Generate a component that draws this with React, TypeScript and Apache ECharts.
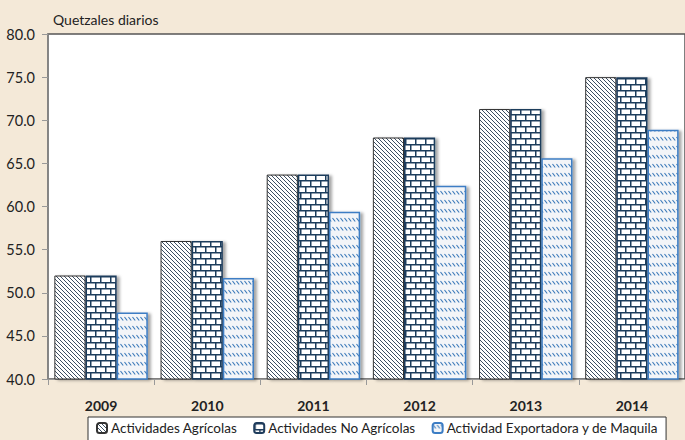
import React, { useEffect, useRef } from "react";
import * as echarts from "echarts";

const categories = ["2009", "2010", "2011", "2012", "2013", "2014"];
const seriesNames = [
  "Actividades Agrícolas",
  "Actividades No Agrícolas",
  "Actividad Exportadora y de Maquila",
];
const agricolas = [52.0, 56.0, 63.7, 68.0, 71.3, 75.0];
const noAgricolas = [52.0, 56.0, 63.7, 68.0, 71.3, 75.0];
const maquila = [47.7, 51.7, 59.4, 62.4, 65.6, 68.9];
const yTicks = { min: 40, max: 80, interval: 5 };

const FONT = "Lato, 'Open Sans', sans-serif";

function makeCanvas(w: number, h: number, draw: (c: CanvasRenderingContext2D) => void) {
  const cv = document.createElement("canvas");
  cv.width = w;
  cv.height = h;
  const ctx = cv.getContext("2d")!;
  draw(ctx);
  return cv;
}

function diagPattern() {
  const cv = makeCanvas(4, 4, (c) => {
    c.fillStyle = "#ffffff";
    c.fillRect(0, 0, 4, 4);
    c.strokeStyle = "#3e5064";
    c.lineWidth = 1;
    c.beginPath();
    c.moveTo(-1, -1);
    c.lineTo(5, 5);
    c.moveTo(-1, 3);
    c.lineTo(1, 5);
    c.moveTo(3, -1);
    c.lineTo(5, 1);
    c.stroke();
  });
  return { image: cv, repeat: "repeat", imageWidth: 4, imageHeight: 4 };
}

function brickPattern() {
  const cv = makeCanvas(10, 12, (c) => {
    c.fillStyle = "#ffffff";
    c.fillRect(0, 0, 10, 12);
    c.strokeStyle = "#1f3c5c";
    c.lineWidth = 1.5;
    c.beginPath();
    c.moveTo(0, 0.75);
    c.lineTo(10, 0.75);
    c.moveTo(0, 6.75);
    c.lineTo(10, 6.75);
    c.moveTo(0.75, 0);
    c.lineTo(0.75, 6.75);
    c.moveTo(5.75, 6.75);
    c.lineTo(5.75, 12);
    c.stroke();
  });
  return { image: cv, repeat: "repeat", imageWidth: 10, imageHeight: 12 };
}

function dashPattern() {
  const cv = makeCanvas(4, 9, (c) => {
    c.fillStyle = "#f3f5f8";
    c.fillRect(0, 0, 4, 9);
    c.strokeStyle = "#3a78b8";
    c.lineWidth = 1.1;
    c.beginPath();
    c.moveTo(0.5, 2);
    c.lineTo(3.2, 5.5);
    c.stroke();
  });
  return { image: cv, repeat: "repeat", imageWidth: 4, imageHeight: 9 };
}

export default function App() {
  const ref = useRef<HTMLDivElement>(null);
  useEffect(() => {
    document.body.style.margin = "0";
    const chart = echarts.init(ref.current!, null, { renderer: "svg" });
    const shadow = {
      shadowColor: "rgba(0,0,0,0.35)",
      shadowBlur: 3,
      shadowOffsetX: 3,
      shadowOffsetY: 1,
    };
    chart.setOption({
      animation: false,
      backgroundColor: "#f4e9d8",
      title: {
        text: "Quetzales diarios",
        left: 48,
        top: 7,
        textStyle: { fontFamily: FONT, fontSize: 14, fontWeight: "normal", color: "#222" },
      },
      grid: {
        left: 48,
        right: -4,
        top: 34,
        bottom: 61,
        show: true,
        backgroundColor: "#ffffff",
        borderColor: "#555",
        borderWidth: 1.5,
      },
      legend: {
        data: seriesNames,
        left: 88,
        top: 417,
        width: 680,
        padding: [4, 8, 8, 8],
        itemGap: 16,
        itemWidth: 10,
        itemHeight: 10,
        backgroundColor: "#ffffff",
        borderColor: "#333",
        borderWidth: 1,
        borderRadius: 0,
        textStyle: { fontFamily: FONT, fontSize: 13.5, color: "#222", padding: [0, 0, 0, -1] },
      },
      xAxis: {
        type: "category",
        data: categories,
        axisLine: { lineStyle: { color: "#999", width: 1 } },
        axisTick: { show: true, length: 6, lineStyle: { color: "#999" } },
        axisLabel: {
          margin: 19,
          fontFamily: FONT,
          fontSize: 14,
          fontWeight: "bold",
          color: "#222",
        },
      },
      yAxis: {
        type: "value",
        min: yTicks.min,
        max: yTicks.max,
        interval: yTicks.interval,
        axisLine: { show: true, lineStyle: { color: "#888", width: 1.5 } },
        axisTick: { show: true, length: 6, lineStyle: { color: "#999" } },
        splitLine: { show: false },
        axisLabel: {
          margin: 13,
          fontFamily: FONT,
          fontSize: 14.5,
          color: "#222",
          formatter: (v: number) => v.toFixed(1),
        },
      },
      series: [
        {
          name: seriesNames[0],
          type: "bar",
          data: agricolas,
          barGap: "0%",
          barCategoryGap: "12%",
          itemStyle: { color: diagPattern(), borderColor: "#333", borderWidth: 1, ...shadow },
        },
        {
          name: seriesNames[1],
          type: "bar",
          data: noAgricolas,
          barGap: "0%",
          barCategoryGap: "12%",
          itemStyle: { color: brickPattern(), borderColor: "#1f3c5c", borderWidth: 1.5, ...shadow },
        },
        {
          name: seriesNames[2],
          type: "bar",
          data: maquila,
          barGap: "0%",
          barCategoryGap: "12%",
          itemStyle: { color: dashPattern(), borderColor: "#3c7dc4", borderWidth: 1.5, ...shadow },
        },
      ],
    });
    return () => chart.dispose();
  }, []);
  return (
    <div
      ref={ref}
      style={{ position: "fixed", left: 0, top: 0, width: 685, height: 440 }}
    />
  );
}
